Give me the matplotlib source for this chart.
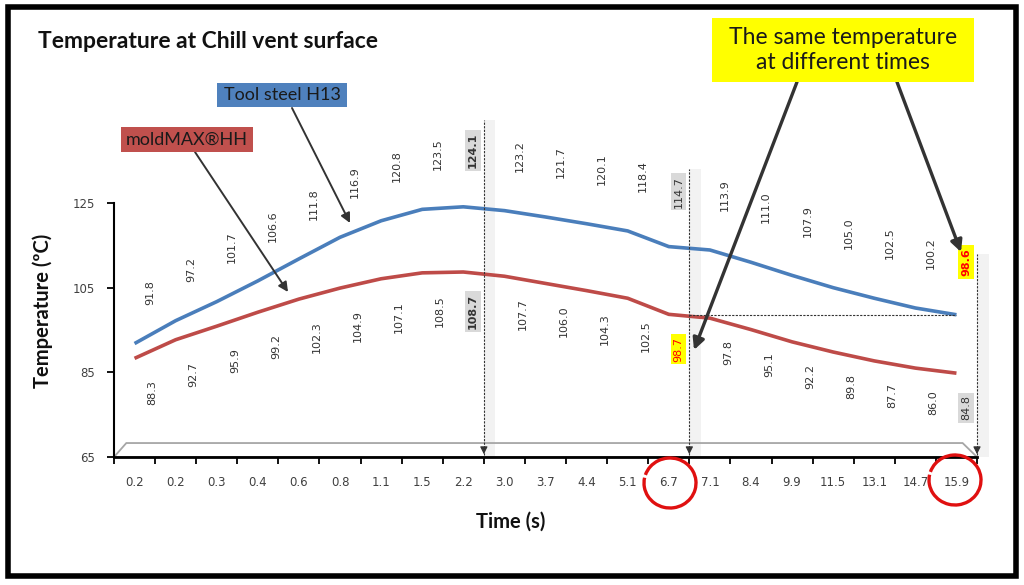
import matplotlib
matplotlib.use("Agg")
import matplotlib.pyplot as plt
from matplotlib.patches import Rectangle, Polygon, Arc

W, H = 1024, 585

# time categories (s)
times = ["0.2", "0.2", "0.3", "0.4", "0.6", "0.8", "1.1", "1.5", "2.2", "3.0", "3.7",
         "4.4", "5.1", "6.7", "7.1", "8.4", "9.9", "11.5", "13.1", "14.7", "15.9"]
# tool steel H13 temperatures (C)
h13 = [91.8, 97.2, 101.7, 106.6, 111.8, 116.9, 120.8, 123.5, 124.1, 123.2, 121.7,
       120.1, 118.4, 114.7, 113.9, 111.0, 107.9, 105.0, 102.5, 100.2, 98.6]
# moldMAX HH temperatures (C)
moldmax = [88.3, 92.7, 95.9, 99.2, 102.3, 104.9, 107.1, 108.5, 108.7, 107.7, 106.0,
           104.3, 102.5, 98.7, 97.8, 95.1, 92.2, 89.8, 87.7, 86.0, 84.8]
yticks = [65, 85, 105, 125]

BLUE = "#4A7EBB"
RED = "#BE4B48"
TXT = "#333333"


def px(x, y):
    # pixel position -> figure fraction
    return (x / W, 1 - y / H)


fig = plt.figure(figsize=(W / 100, H / 100), dpi=100)
ax = fig.add_axes([114 / W, 1 - 457 / H, 863 / W, (457 - 203) / H])

n = len(times)
xs = list(range(n))
ax.set_xlim(-0.5, n - 0.5)
ax.set_ylim(65, 125)

# 3D style floor
floor = Polygon([(-0.5, 65), (-0.2, 68.3), (n - 0.85, 68.3), (n - 0.5, 65)],
                closed=True, fill=False, ec="#A6A6A6", lw=1.3, clip_on=False, zorder=1)
ax.add_patch(floor)

# marker columns
marks = [8, 13, 20]
tops = [144.5, 133.0, 113.0]
for m, t in zip(marks, tops):
    ax.add_patch(Rectangle((m + 0.5, 65), 0.28, t - 65, fc="#F2F2F2", ec="none",
                           clip_on=False, zorder=0))
    ax.plot([m + 0.5, m + 0.5], [65.5, t], ls=(0, (2, 1.2)), color=TXT, lw=0.8,
            clip_on=False, zorder=3)
    ax.annotate("", xy=(m + 0.5, 65), xytext=(m + 0.5, 67.5),
                arrowprops=dict(arrowstyle="-|>", color=TXT, lw=0.8, mutation_scale=11),
                annotation_clip=False, zorder=4)

# same temperature line
ax.plot([13.5, 20], [h13[20], h13[20]], ls=(0, (2, 1.2)), color=TXT, lw=0.8, zorder=3)

ax.plot(xs, moldmax, color=RED, lw=2.6, solid_capstyle="butt", clip_on=False, zorder=2)
ax.plot(xs, h13, color=BLUE, lw=2.6, solid_capstyle="butt", clip_on=False, zorder=2)

# data labels
grey_box = dict(boxstyle="square,pad=0.25", fc="#D9D9D9", ec="none")
yel_box = dict(boxstyle="square,pad=0.25", fc="#FFFF00", ec="none")
for i in xs:
    kw = dict(color=TXT, fontsize=8, fontweight="normal", bbox=None)
    dx = 11
    if i == 8:
        kw.update(fontweight="bold", bbox=grey_box)
        dx = 7
    elif i == 13:
        kw.update(bbox=grey_box)
        dx = 7
    elif i == 20:
        kw.update(color="red", fontweight="bold", bbox=yel_box)
        dx = 7
    ax.annotate(f"{h13[i]:.1f}", xy=(i, h13[i]), xytext=(dx, 28), textcoords="offset points",
                rotation=90, ha="center", va="bottom", annotation_clip=False, **kw)

    kw = dict(color=TXT, fontsize=8, fontweight="normal", bbox=None)
    dx = 13
    if i == 8:
        kw.update(fontweight="bold", bbox=grey_box)
        dx = 7
    elif i == 13:
        kw.update(color="red", bbox=yel_box)
        dx = 7
    elif i == 20:
        kw.update(bbox=grey_box)
        dx = 7
    ax.annotate(f"{moldmax[i]:.1f}", xy=(i, moldmax[i]), xytext=(dx, -16), textcoords="offset points",
                rotation=90, ha="center", va="top", annotation_clip=False, **kw)

# axes styling
for s in ["top", "right"]:
    ax.spines[s].set_visible(False)
ax.spines["left"].set_linewidth(1.5)
ax.spines["bottom"].set_linewidth(2)
ax.set_yticks(yticks)
ax.set_yticklabels([str(v) for v in yticks], fontsize=8.5, color="#404040")
ax.tick_params(axis="y", length=5, width=1.3, pad=9)
ax.set_xticks([k - 0.5 for k in range(n + 1)])
ax.set_xticklabels([])
ax.tick_params(axis="x", which="major", length=5, width=1.3)
ax.set_xticks(xs, minor=True)
ax.set_xticklabels(times, minor=True, fontsize=8.5, color="#404040")
ax.tick_params(axis="x", which="minor", length=0, pad=14)
ax.patch.set_alpha(0)

# titles
fig.text(*px(38, 42), "Temperature at Chill vent surface", fontsize=16.5, fontweight="bold",
         family="Lato", va="center", ha="left", color="#111111")
fig.text(*px(43, 311), "Temperature (ºC)", fontsize=14.5, fontweight="bold", family="Lato",
         rotation=90, va="center", ha="center", color="#111111")
fig.text(*px(511, 522), "Time (s)", fontsize=14.5, fontweight="bold", family="Lato",
         va="center", ha="center", color="#111111")


def box(x0, y0, x1, y1, color, text, size):
    fig.patches.append(Rectangle(px(x0, y1), (x1 - x0) / W, (y1 - y0) / H, fc=color, ec="none",
                                 transform=fig.transFigure, figure=fig, zorder=5))
    fig.text(*px((x0 + x1) / 2, (y0 + y1) / 2), text, fontsize=size, family="Lato",
             ha="center", va="center", color="#1A1A1A", linespacing=1.2, zorder=6)


box(217, 83, 347, 107, "#4F81BD", "Tool steel H13", 13)
box(121, 127, 253, 152, "#C0504D", "moldMAX®HH", 13)
box(712, 18, 974, 82, "#FFFF00", "The same temperature\nat different times", 16.5)

# pointer arrows
arrows = [((292, 108), (350, 223), 1.4), ((195, 152), (288, 292), 1.4),
          ((797, 82), (694, 350), 2.4), ((897, 82), (961, 252), 2.4)]
for (x0, y0), (x1, y1), lw in arrows:
    ax.annotate("", xy=px(x1, y1), xytext=px(x0, y0), xycoords="figure fraction",
                textcoords="figure fraction",
                arrowprops=dict(arrowstyle="-|>", color="#333333", lw=lw,
                                mutation_scale=10 + 3 * lw, shrinkA=0, shrinkB=0),
                annotation_clip=False)

# hand drawn circles
for cx, cy in [(670, 483), (955, 480)]:
    fig.patches.append(Arc(px(cx, cy), 52 / W, 50 / H, theta1=-200, theta2=150,
                           transform=fig.transFigure, figure=fig, color="#E01010", lw=2.4))

# frame
fig.patches.append(Rectangle(px(8, 576), 1008 / W, 569 / H, fill=False, ec="black", lw=4,
                             transform=fig.transFigure, figure=fig))

fig.savefig("out.png", dpi=100)
